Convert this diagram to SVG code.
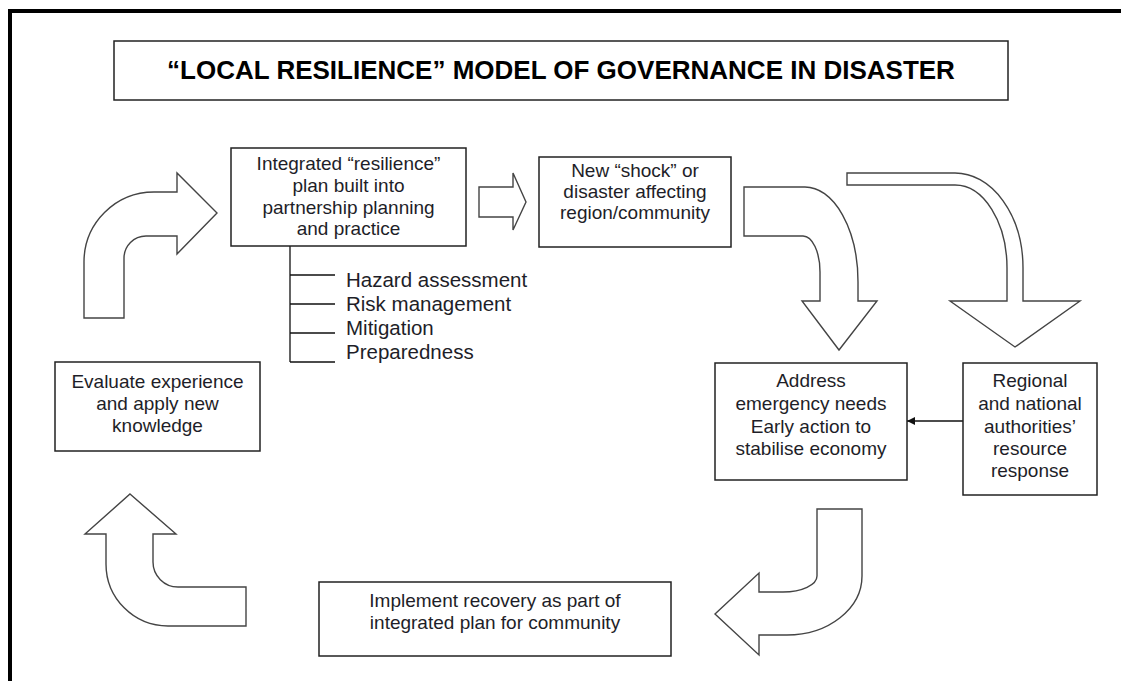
<svg xmlns="http://www.w3.org/2000/svg" width="1121" height="681" viewBox="0 0 1121 681">
<style>
  .box{fill:#fff;stroke:#222;stroke-width:1.5}
  .blk{fill:#fff;stroke:#444;stroke-width:1.4;stroke-linejoin:miter}
  .t{font-family:"Liberation Sans",Arial,sans-serif;font-size:19px;fill:#1e1e28;text-anchor:middle}
  .l{font-family:"Liberation Sans",Arial,sans-serif;font-size:20.5px;fill:#1e1e28}
  .title{font-family:"Liberation Sans",Arial,sans-serif;font-size:26px;font-weight:bold;fill:#000;text-anchor:middle}
  .ln{stroke:#111;stroke-width:1.3;fill:none}
</style>
<defs>
  <marker id="ah" viewBox="0 0 10 10" refX="10" refY="5" markerWidth="8" markerHeight="8" markerUnits="userSpaceOnUse" orient="auto">
    <path d="M0,0 L10,5 L0,10 Z" fill="#111"/>
  </marker>
</defs>
<rect width="1121" height="681" fill="#fff"/>
<path d="M10,681 L10,11 L1121,11" fill="none" stroke="#000" stroke-width="4"/>

<g id="title">
  <rect class="box" x="114" y="41" width="894" height="59"/>
  <text class="title" x="561" y="79">“LOCAL RESILIENCE” MODEL OF GOVERNANCE IN DISASTER</text>
</g>

<g id="connectors">
  <path class="blk" d="M84,318 L84,262 A70,70 0 0 1 154,192 L177,192 L177,173 L217,213 L177,254 L177,236 L146,236 A22,22 0 0 0 124,258 L124,318 Z"/>
  <path class="blk" d="M479,187 L513,187 L513,173 L526,202 L513,230 L513,217 L479,217 Z"/>
  <path class="blk" d="M744,187 L805,187 A53,95 0 0 1 858,282 L858,301 L877,301 L839,350 L802,301 L820,301 L820,272 A17,36 0 0 0 803,236 L744,236 Z"/>
  <path class="blk" d="M847,173 L955,173 A68,95 0 0 1 1023,268 L1023,301 L1080,301 L1015,347 L950,301 L1007,301 L1007,268 A52,83 0 0 0 955,185 L847,185 Z"/>
  <path class="blk" d="M817,509 L862,509 L862,576 A75,59 0 0 1 787,635 L759,635 L759,655 L715,614 L759,573 L759,592 L783,592 A34,16 0 0 0 817,576 Z"/>
  <path class="blk" d="M130,494 L176,534 L153,534 L153,562 A25,25 0 0 0 178,587 L246,587 L246,626 L168,626 A62,62 0 0 1 106,564 L106,534 L85,534 Z"/>
  <line class="ln" x1="963" y1="421" x2="907" y2="421" marker-end="url(#ah)"/>
  <path class="ln" d="M290,246 L290,362 M290,275 L335,275 M290,304 L335,304 M290,333 L335,333 M290,362 L335,362"/>
</g>

<g id="integrated-plan">
  <rect class="box" x="231" y="148" width="235" height="98"/>
  <text class="t" x="348.5" y="170">Integrated “resilience”</text>
  <text class="t" x="348.5" y="191.5">plan built into</text>
  <text class="t" x="348.5" y="213.5">partnership planning</text>
  <text class="t" x="348.5" y="235">and practice</text>
</g>

<g id="plan-items">
  <text class="l" x="346" y="287">Hazard assessment</text>
  <text class="l" x="346" y="311">Risk management</text>
  <text class="l" x="346" y="335">Mitigation</text>
  <text class="l" x="346" y="359">Preparedness</text>
</g>

<g id="new-shock">
  <rect class="box" x="539" y="157" width="192" height="90"/>
  <text class="t" x="635" y="177">New “shock” or</text>
  <text class="t" x="635" y="198">disaster affecting</text>
  <text class="t" x="635" y="219">region/community</text>
</g>

<g id="address-needs">
  <rect class="box" x="715" y="363" width="192" height="117"/>
  <text class="t" x="811" y="387">Address</text>
  <text class="t" x="811" y="410">emergency needs</text>
  <text class="t" x="811" y="433">Early action to</text>
  <text class="t" x="811" y="455">stabilise economy</text>
</g>

<g id="regional-response">
  <rect class="box" x="963" y="363" width="134" height="132"/>
  <text class="t" x="1030" y="387">Regional</text>
  <text class="t" x="1030" y="410">and national</text>
  <text class="t" x="1030" y="433">authorities’</text>
  <text class="t" x="1030" y="455">resource</text>
  <text class="t" x="1030" y="477">response</text>
</g>

<g id="implement-recovery">
  <rect class="box" x="319" y="582" width="352" height="74"/>
  <text class="t" x="495" y="607">Implement recovery as part of</text>
  <text class="t" x="495" y="629">integrated plan for community</text>
</g>

<g id="evaluate">
  <rect class="box" x="55" y="362" width="205" height="89"/>
  <text class="t" x="157.5" y="388">Evaluate experience</text>
  <text class="t" x="157.5" y="410">and apply new</text>
  <text class="t" x="157.5" y="432">knowledge</text>
</g>
</svg>
